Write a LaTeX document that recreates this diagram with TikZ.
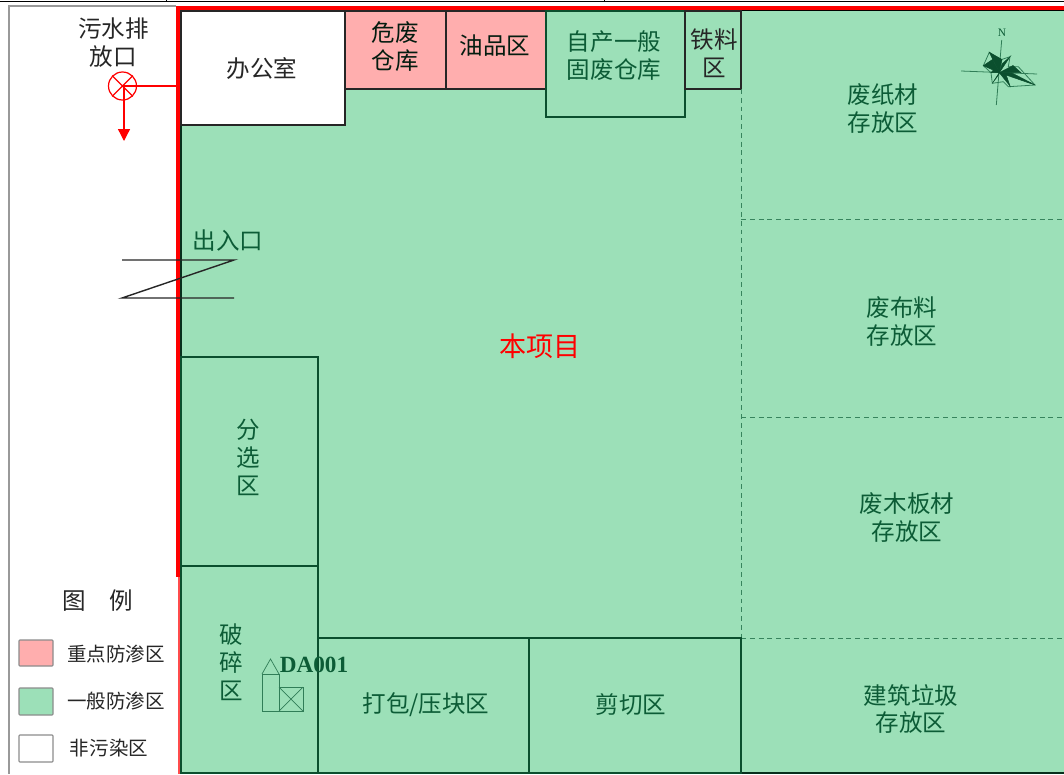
\documentclass[tikz,border=0pt]{standalone}
\usepackage{fontspec}
\setmainfont{Liberation Serif}
\newfontfamily\cjk{Noto Sans CJK SC}
\usetikzlibrary{arrows.meta}
\definecolor{yiban}{HTML}{9CE0B8}
\definecolor{zhongdian}{HTML}{FFAEAE}
\definecolor{moji}{HTML}{0C5C36}
\definecolor{biankuang}{HTML}{0B4F2E}
\tikzset{
    % rooms are typed in pixels of the plan
    room/.style={draw=biankuang,line width=0.7pt},
    blackroom/.style={draw=black!85,line width=0.7pt},
    splitline/.style={draw=moji!70!yiban,line width=0.5pt,dash pattern=on 2.8pt off 2.2pt},
    swatch/.style={draw=black!45,line width=0.6pt,rounded corners=0.5pt},
    label/.style={font=\cjk\fontsize{13.4}{15.9}\selectfont,text=moji,align=center,inner sep=0pt},
    blacklabel/.style={label,text=black!85},
    keylabel/.style={label,font=\cjk\fontsize{11.1}{13}\selectfont,text=black!85},
    thinsymbol/.style={draw=moji!75!yiban,line width=0.4pt},
    compassline/.style={draw=moji!75!yiban,line width=0.45pt}
}

\begin{document}
\begin{tikzpicture}[x=0.02cm,y=-0.02cm]
  \useasboundingbox (0,0) rectangle (1064,774);

  % top of the sheet
  \draw[black,line width=0.6pt] (0,1.5) -- (1064,1.5);
  \draw[black,line width=0.4pt] (166,0) -- (166,1.5);
  \draw[black,line width=0.4pt] (604,0) -- (604,1.5);
  \draw[black!40,line width=0.6pt] (176,6) -- (9,6) -- (9,774);

  % site
  \fill[yiban] (181,10) rectangle (1064,774);
  \fill[red] (176,5.5) rectangle (1064,10);
  \fill[red] (176,5.5) rectangle (180,577);
  \fill[red!70] (177.8,577) rectangle (179.5,774);
  \draw[black,line width=0.6pt] (180.5,10.5) -- (1064,10.5);
  \draw[biankuang!60!black,line width=0.8pt] (180.8,10.5) -- (180.8,773) -- (1064,773);

  % rooms along the top
  \draw[blackroom,fill=white] (181,11) rectangle (345,125);
  \draw[blackroom,fill=zhongdian] (345,11) rectangle (446,89);
  \draw[blackroom,fill=zhongdian] (446,11) rectangle (546,89);
  \draw[room] (546,11) rectangle (685,117);
  \draw[blackroom] (685,11) rectangle (741,89);

  % storage on the right
  \draw[splitline] (741,89) -- (741,638);
  \draw[splitline] (741,219) -- (1064,219);
  \draw[splitline] (741,417) -- (1064,417);
  \draw[splitline] (741,638) -- (1064,638);

  % rooms at the bottom
  \draw[room] (181,357) rectangle (318,566);
  \draw[room] (181,566) rectangle (318,773);
  \draw[room] (318,638) rectangle (529,773);
  \draw[room] (529,638) rectangle (741,773);

  % entrance
  \draw[black!85,line width=0.8pt] (122,260) -- (234,260) -- (122,298) -- (234,298);

  % outlet
  \node[draw=red,circle,line width=0.7pt,minimum size=0.56cm,inner sep=0pt] (outlet) at (122.5,86) {};
  \draw[red,line width=0.7pt] (outlet.45) -- (outlet.225) (outlet.135) -- (outlet.315);
  \coordinate (wall) at (177,86);
  \coordinate (outletend) at (124,141);
  \draw[red,line width=0.75pt] (outlet.center) -- (wall);
  \draw[red,line width=0.75pt,-{Triangle[length=0.24cm,width=0.24cm]}] (124,86) -- (outletend);

  % chimney and fan
  \draw[thinsymbol] (262,674) rectangle (279,711);
  \draw[thinsymbol] (262,674) -- (270.5,659) -- (279,674);
  \draw[thinsymbol] (279,687) rectangle (303,711);
  \draw[thinsymbol] (279,687) -- (303,711) (303,687) -- (279,711);

  % north arrow
  \draw[compassline] (1001.7,40) -- (996.3,105);
  \draw[compassline] (961,71) -- (1037,74);
  \draw[compassline] (989.3,52.3) -- (1000,60) -- (1010,56.7) -- (1008.3,66.7) -- (1018.3,66.7) -- (1035,85) -- (1008.3,86.7) -- (1003.3,81.7) -- (992.3,83.3) -- (991,72.7) -- (983.3,65.7) -- cycle;
  \foreach \ax/\ay/\bx/\by in {989.3/52.3/1002/59.5, 983.3/65.7/992.5/59.5, 1010/56.7/1002/64, 1021/72.7/1013/65.5, 1035/85/1012/73, 1010/86/1006/74.5, 992.3/83.3/998.5/75, 991/72.7/995/68}{
    \fill[biankuang,draw=biankuang,line width=0.3pt] (999.3,72.7) -- (\ax,\ay) -- (\bx,\by) -- cycle;
  }
  \node[inner sep=0pt,text=moji,font=\fontsize{6.5}{7}\selectfont] (north) at (1002,33) {N};

  % labels
  \node[blacklabel] (outletlabel) at (113.5,43) {污水排\\放口};
  \node[blacklabel] (office) at (262,68) {办公室};
  \node[label,text=black!70!moji] (hazard) at (395,47) {危废\\仓库};
  \node[label,text=black!70!moji] (oil) at (495,46) {油品区};
  \node[label] (selfwaste) at (614,56) {自产一般\\固废仓库};
  \node[blacklabel] (iron) at (714,53) {铁料\\区};
  \node[label] (paper) at (883,109) {废纸材\\存放区};
  \node[label] (cloth) at (902,322) {废布料\\存放区};
  \node[label] (wood) at (907,518) {废木板材\\存放区};
  \node[label] (rubble) at (911,709) {建筑垃圾\\存放区};
  \node[label,text=red,font=\cjk\fontsize{15.4}{18}\selectfont] (project) at (540,346) {本项目};
  \node[label] (entrance) at (228,241) {出入口};
  \node[label] (sorting) at (248,457) {分\\选\\区};
  \node[label] (crushing) at (231,662) {破\\碎\\区};
  \node[label] (baling) at (426,705) {打包/压块区};
  \node[label] (cutting) at (631,705) {剪切区};
  \node[inner sep=0pt,text=moji,font=\fontsize{13.2}{15}\selectfont\bfseries] (stack) at (314,665) {DA001};

  % legend
  \node[blacklabel] (legendtitle) at (98,601) {图\hspace{1em}例};
  \draw[swatch,fill=zhongdian] (19,640) rectangle (53,666);
  \draw[swatch,fill=yiban] (19,688) rectangle (53,715);
  \draw[swatch,fill=white] (19,735) rectangle (53,762);
  \node[keylabel] (keyone) at (116,654) {重点防渗区};
  \node[keylabel] (keytwo) at (116,701) {一般防渗区};
  \node[keylabel] (keythree) at (109,748) {非污染区};
\end{tikzpicture}
\end{document}
